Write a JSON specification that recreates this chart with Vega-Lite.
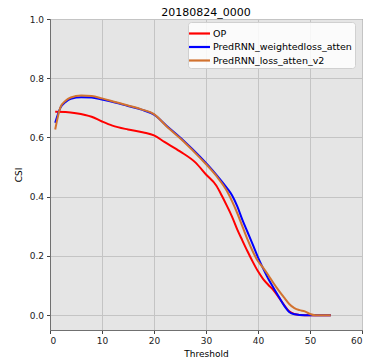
{
  "$schema": "https://vega.github.io/schema/vega-lite/v6.json",
  "width": 312,
  "height": 311,
  "autosize": "none",
  "padding": {"left": 50, "top": 19, "right": 4, "bottom": 33},
  "title": {"text": "20180824_0000", "fontSize": 11, "font": "DejaVu Sans", "fontWeight": "normal", "offset": -3, "color": "#000"},
  "config": {
    "background": "white",
    "view": {"fill": "#e5e5e5", "stroke": "#707070", "strokeWidth": 1},
    "font": "DejaVu Sans",
    "axis": {"labelFont": "DejaVu Sans", "titleFont": "DejaVu Sans", "labelFontSize": 9, "titleFontSize": 9, "titleFontWeight": "normal", "labelColor": "#222", "titleColor": "#000", "gridColor": "#c4c4c4", "gridWidth": 1, "gridOpacity": 1, "tickColor": "#444", "tickSize": 3.5, "domainColor": "#707070", "labelPadding": 3}
  },
  "data": {"values": [
    {"s": "OP", "o": 0, "x": 1, "y": 0.687},
    {"s": "OP", "o": 0, "x": 3, "y": 0.686},
    {"s": "OP", "o": 0, "x": 5, "y": 0.682},
    {"s": "OP", "o": 0, "x": 8, "y": 0.670},
    {"s": "OP", "o": 0, "x": 10, "y": 0.654},
    {"s": "OP", "o": 0, "x": 12, "y": 0.640},
    {"s": "OP", "o": 0, "x": 15, "y": 0.627},
    {"s": "OP", "o": 0, "x": 18, "y": 0.617},
    {"s": "OP", "o": 0, "x": 20, "y": 0.607},
    {"s": "OP", "o": 0, "x": 22, "y": 0.585},
    {"s": "OP", "o": 0, "x": 25, "y": 0.553},
    {"s": "OP", "o": 0, "x": 28, "y": 0.515},
    {"s": "OP", "o": 0, "x": 30, "y": 0.475},
    {"s": "OP", "o": 0, "x": 32, "y": 0.437},
    {"s": "OP", "o": 0, "x": 33, "y": 0.405},
    {"s": "OP", "o": 0, "x": 34, "y": 0.370},
    {"s": "OP", "o": 0, "x": 35, "y": 0.333},
    {"s": "OP", "o": 0, "x": 36, "y": 0.290},
    {"s": "OP", "o": 0, "x": 37, "y": 0.252},
    {"s": "OP", "o": 0, "x": 38, "y": 0.215},
    {"s": "OP", "o": 0, "x": 39, "y": 0.180},
    {"s": "OP", "o": 0, "x": 40, "y": 0.148},
    {"s": "OP", "o": 0, "x": 41, "y": 0.122},
    {"s": "OP", "o": 0, "x": 42, "y": 0.102},
    {"s": "OP", "o": 0, "x": 43, "y": 0.084},
    {"s": "OP", "o": 0, "x": 44, "y": 0.060},
    {"s": "OP", "o": 0, "x": 45, "y": 0.035},
    {"s": "OP", "o": 0, "x": 46, "y": 0.013},
    {"s": "OP", "o": 0, "x": 47, "y": 0.004},
    {"s": "OP", "o": 0, "x": 48, "y": 0.001},
    {"s": "OP", "o": 0, "x": 50, "y": 0.0},
    {"s": "OP", "o": 0, "x": 54, "y": 0.0},
    {"s": "PredRNN_weightedloss_atten", "o": 1, "x": 1, "y": 0.650},
    {"s": "PredRNN_weightedloss_atten", "o": 1, "x": 2, "y": 0.700},
    {"s": "PredRNN_weightedloss_atten", "o": 1, "x": 3, "y": 0.720},
    {"s": "PredRNN_weightedloss_atten", "o": 1, "x": 4, "y": 0.731},
    {"s": "PredRNN_weightedloss_atten", "o": 1, "x": 6, "y": 0.736},
    {"s": "PredRNN_weightedloss_atten", "o": 1, "x": 8, "y": 0.735},
    {"s": "PredRNN_weightedloss_atten", "o": 1, "x": 10, "y": 0.728},
    {"s": "PredRNN_weightedloss_atten", "o": 1, "x": 12.5, "y": 0.718},
    {"s": "PredRNN_weightedloss_atten", "o": 1, "x": 15, "y": 0.706},
    {"s": "PredRNN_weightedloss_atten", "o": 1, "x": 17.6, "y": 0.694},
    {"s": "PredRNN_weightedloss_atten", "o": 1, "x": 20, "y": 0.677},
    {"s": "PredRNN_weightedloss_atten", "o": 1, "x": 22.4, "y": 0.640},
    {"s": "PredRNN_weightedloss_atten", "o": 1, "x": 25.6, "y": 0.591},
    {"s": "PredRNN_weightedloss_atten", "o": 1, "x": 28.8, "y": 0.536},
    {"s": "PredRNN_weightedloss_atten", "o": 1, "x": 32, "y": 0.474},
    {"s": "PredRNN_weightedloss_atten", "o": 1, "x": 34, "y": 0.430},
    {"s": "PredRNN_weightedloss_atten", "o": 1, "x": 35, "y": 0.405},
    {"s": "PredRNN_weightedloss_atten", "o": 1, "x": 36, "y": 0.368},
    {"s": "PredRNN_weightedloss_atten", "o": 1, "x": 37, "y": 0.322},
    {"s": "PredRNN_weightedloss_atten", "o": 1, "x": 38, "y": 0.280},
    {"s": "PredRNN_weightedloss_atten", "o": 1, "x": 39, "y": 0.238},
    {"s": "PredRNN_weightedloss_atten", "o": 1, "x": 40, "y": 0.195},
    {"s": "PredRNN_weightedloss_atten", "o": 1, "x": 41, "y": 0.157},
    {"s": "PredRNN_weightedloss_atten", "o": 1, "x": 42, "y": 0.122},
    {"s": "PredRNN_weightedloss_atten", "o": 1, "x": 43, "y": 0.092},
    {"s": "PredRNN_weightedloss_atten", "o": 1, "x": 44, "y": 0.062},
    {"s": "PredRNN_weightedloss_atten", "o": 1, "x": 45, "y": 0.033},
    {"s": "PredRNN_weightedloss_atten", "o": 1, "x": 46, "y": 0.011},
    {"s": "PredRNN_weightedloss_atten", "o": 1, "x": 47, "y": 0.003},
    {"s": "PredRNN_weightedloss_atten", "o": 1, "x": 48, "y": 0.001},
    {"s": "PredRNN_weightedloss_atten", "o": 1, "x": 50, "y": 0.0},
    {"s": "PredRNN_weightedloss_atten", "o": 1, "x": 54, "y": 0.0},
    {"s": "PredRNN_loss_atten_v2", "o": 2, "x": 1, "y": 0.627},
    {"s": "PredRNN_loss_atten_v2", "o": 2, "x": 2, "y": 0.702},
    {"s": "PredRNN_loss_atten_v2", "o": 2, "x": 3, "y": 0.724},
    {"s": "PredRNN_loss_atten_v2", "o": 2, "x": 4, "y": 0.735},
    {"s": "PredRNN_loss_atten_v2", "o": 2, "x": 6, "y": 0.742},
    {"s": "PredRNN_loss_atten_v2", "o": 2, "x": 8, "y": 0.740},
    {"s": "PredRNN_loss_atten_v2", "o": 2, "x": 10, "y": 0.732},
    {"s": "PredRNN_loss_atten_v2", "o": 2, "x": 12.5, "y": 0.720},
    {"s": "PredRNN_loss_atten_v2", "o": 2, "x": 15, "y": 0.708},
    {"s": "PredRNN_loss_atten_v2", "o": 2, "x": 17.6, "y": 0.695},
    {"s": "PredRNN_loss_atten_v2", "o": 2, "x": 20, "y": 0.679},
    {"s": "PredRNN_loss_atten_v2", "o": 2, "x": 22.4, "y": 0.638},
    {"s": "PredRNN_loss_atten_v2", "o": 2, "x": 25.6, "y": 0.588},
    {"s": "PredRNN_loss_atten_v2", "o": 2, "x": 28.8, "y": 0.532},
    {"s": "PredRNN_loss_atten_v2", "o": 2, "x": 32, "y": 0.470},
    {"s": "PredRNN_loss_atten_v2", "o": 2, "x": 34, "y": 0.420},
    {"s": "PredRNN_loss_atten_v2", "o": 2, "x": 35, "y": 0.385},
    {"s": "PredRNN_loss_atten_v2", "o": 2, "x": 36, "y": 0.345},
    {"s": "PredRNN_loss_atten_v2", "o": 2, "x": 37, "y": 0.300},
    {"s": "PredRNN_loss_atten_v2", "o": 2, "x": 38, "y": 0.255},
    {"s": "PredRNN_loss_atten_v2", "o": 2, "x": 39, "y": 0.215},
    {"s": "PredRNN_loss_atten_v2", "o": 2, "x": 40, "y": 0.182},
    {"s": "PredRNN_loss_atten_v2", "o": 2, "x": 41, "y": 0.160},
    {"s": "PredRNN_loss_atten_v2", "o": 2, "x": 42, "y": 0.135},
    {"s": "PredRNN_loss_atten_v2", "o": 2, "x": 43, "y": 0.108},
    {"s": "PredRNN_loss_atten_v2", "o": 2, "x": 44, "y": 0.083},
    {"s": "PredRNN_loss_atten_v2", "o": 2, "x": 45, "y": 0.060},
    {"s": "PredRNN_loss_atten_v2", "o": 2, "x": 46, "y": 0.038},
    {"s": "PredRNN_loss_atten_v2", "o": 2, "x": 47, "y": 0.024},
    {"s": "PredRNN_loss_atten_v2", "o": 2, "x": 48, "y": 0.017},
    {"s": "PredRNN_loss_atten_v2", "o": 2, "x": 49, "y": 0.013},
    {"s": "PredRNN_loss_atten_v2", "o": 2, "x": 50, "y": 0.004},
    {"s": "PredRNN_loss_atten_v2", "o": 2, "x": 51, "y": 0.0},
    {"s": "PredRNN_loss_atten_v2", "o": 2, "x": 54, "y": 0.0}
  ]},
  "mark": {"type": "line", "strokeWidth": 2, "interpolate": "monotone", "clip": true},
  "encoding": {
    "x": {"field": "x", "type": "quantitative", "scale": {"domain": [0, 60], "nice": false, "zero": false},
      "axis": {"values": [0, 10, 20, 30, 40, 50, 60], "title": "Threshold", "titlePadding": 4}},
    "y": {"field": "y", "type": "quantitative", "scale": {"domain": [-0.05, 1.0], "nice": false, "zero": false},
      "axis": {"values": [0, 0.2, 0.4, 0.6, 0.8, 1.0], "format": ".1f", "title": "CSI", "titlePadding": 6}},
    "stroke": {"field": "s", "type": "nominal",
      "scale": {"domain": ["OP", "PredRNN_weightedloss_atten", "PredRNN_loss_atten_v2"], "range": ["#ff0000", "#0000ff", "#d2722f"]},
      "legend": {"title": null, "orient": "none", "legendX": 138, "legendY": 3, "symbolType": "M-1.5,0H1.5", "symbolSize": 196, "symbolStrokeWidth": 2.2, "symbolFillColor": "transparent", "labelFontSize": 9.5, "labelFont": "DejaVu Sans", "labelColor": "#000", "rowPadding": 0.5, "padding": 3, "fillColor": "rgba(255,255,255,0.85)", "strokeColor": "#d0d0d0", "cornerRadius": 3, "labelOffset": 5}},
    "order": {"field": "x", "type": "quantitative"}
  }
}
